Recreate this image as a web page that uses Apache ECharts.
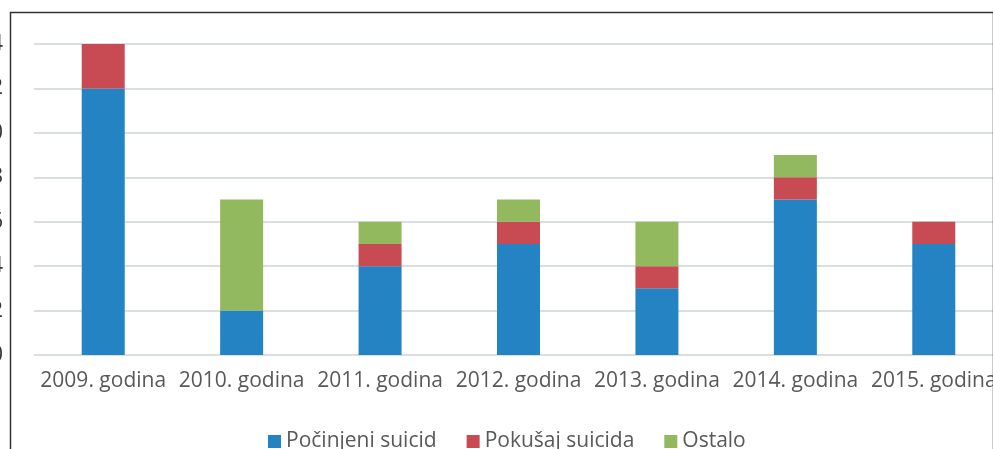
<!DOCTYPE html>
<html>
<head>
<meta charset="utf-8">
<script src="https://cdn.jsdelivr.net/npm/echarts@6/dist/echarts.min.js"></script>
<style>
  html, body { margin: 0; padding: 0; background: #fff; }
  #main { width: 993px; height: 449px; }
</style>
</head>
<body>
<div id="main"></div>
<script>
var categories = ['2009. godina', '2010. godina', '2011. godina', '2012. godina', '2013. godina', '2014. godina', '2015. godina'];
var pocinjeni = [12, 2, 4, 5, 3, 7, 5];
var pokusaj = [2, 0, 1, 1, 1, 1, 1];
var ostalo = [0, 5, 1, 1, 2, 1, 0];

var chart = echarts.init(document.getElementById('main'));

function barSeries(name, data) {
    return {
        name: name,
        type: 'bar',
        stack: 'total',
        barWidth: 43,
        data: data
    };
}

var option = {
    animation: false,
    color: ['#2383c3', '#c84a52', '#93b95f'],
    textStyle: { fontFamily: 'Open Sans' },
    grid: {
        left: 34,
        top: 44,
        width: 969,
        bottom: 94,
        containLabel: false,
        outerBoundsMode: 'none'
    },
    legend: {
        data: ['Počinjeni suicid', 'Pokušaj suicida', 'Ostalo'],
        left: 263,
        top: 426,
        icon: 'rect',
        itemWidth: 13,
        itemHeight: 13,
        itemGap: 30,
        textStyle: { fontSize: 21, color: '#595959', fontFamily: 'Open Sans' }
    },
    xAxis: {
        type: 'category',
        data: categories,
        axisLine: { show: false },
        axisTick: { show: false },
        axisLabel: {
            interval: 0,
            margin: 16,
            fontSize: 21,
            color: '#595959',
            fontFamily: 'Open Sans'
        }
    },
    yAxis: {
        type: 'value',
        min: 0,
        max: 14,
        interval: 2,
        axisLine: { show: false },
        axisTick: { show: false },
        axisLabel: {
            margin: 31,
            fontSize: 21,
            color: '#333',
            fontFamily: 'Open Sans'
        },
        splitLine: {
            lineStyle: { color: '#d9dfe0', width: 2 }
        }
    },
    graphic: [
        {
            type: 'rect',
            left: 8,
            top: 10,
            shape: { width: 983, height: 460 },
            style: { fill: 'none', stroke: '#333', lineWidth: 1.5 },
            z: 100
        }
    ],
    series: [
        barSeries('Počinjeni suicid', pocinjeni),
        barSeries('Pokušaj suicida', pokusaj),
        barSeries('Ostalo', ostalo)
    ]
};

chart.setOption(option);
</script>
</body>
</html>
